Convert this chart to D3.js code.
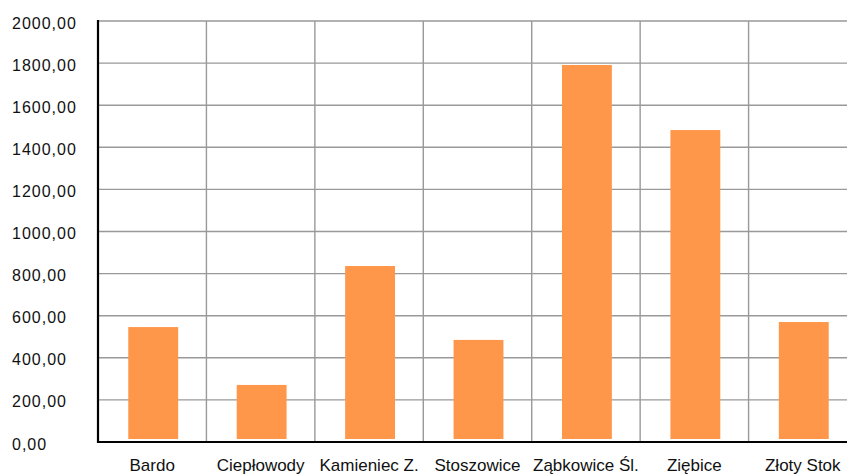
<!DOCTYPE html>
<html>
<head>
<meta charset="utf-8">
<script src="https://cdn.jsdelivr.net/npm/d3@7"></script>
<style>
  body { margin: 0; background: #fff; }
  svg { display: block; font-family: "Liberation Sans", Arial, Helvetica, sans-serif; }
</style>
</head>
<body>
<div id="chart"></div>
<script>
const categories = ["Bardo", "Ciepłowody", "Kamieniec Z.", "Stoszowice", "Ząbkowice Śl.", "Ziębice", "Złoty Stok"];
const values = [546, 271, 836, 485, 1791, 1482, 570];
const yTicks = [0, 200, 400, 600, 800, 1000, 1200, 1400, 1600, 1800, 2000];

const width = 847, height = 474;
const plotLeft = 98, plotTop = 21, plotBottom = 442, plotRight = 857;

const svg = d3.select("#chart").append("svg")
    .attr("width", width)
    .attr("height", height);

const x = d3.scaleBand()
    .domain(categories)
    .range([plotLeft, plotRight])
    .paddingInner(0)
    .paddingOuter(0);

const y = d3.scaleLinear()
    .domain([0, 2000])
    .range([plotBottom, plotTop]);

// horizontal grid
svg.append("g")
  .selectAll("line")
  .data(yTicks)
  .enter().append("line")
    .attr("x1", plotLeft)
    .attr("x2", plotRight)
    .attr("y1", d => y(d))
    .attr("y2", d => y(d))
    .attr("stroke", "#999")
    .attr("stroke-width", 1.4);

// vertical grid at category boundaries
svg.append("g")
  .selectAll("line")
  .data(categories.slice(1))
  .enter().append("line")
    .attr("x1", d => x(d))
    .attr("x2", d => x(d))
    .attr("y1", plotTop)
    .attr("y2", plotBottom)
    .attr("stroke", "#999")
    .attr("stroke-width", 1.4);

// bars
const barW = x.bandwidth() * 0.46;
svg.append("g")
  .selectAll("rect")
  .data(values)
  .enter().append("rect")
    .attr("x", (d, i) => x(categories[i]) + x.bandwidth() / 2 - barW / 2 + 1)
    .attr("y", d => y(d))
    .attr("width", barW)
    .attr("height", d => y(0) - y(d) - 3)
    .attr("fill", "#FF974B");

// axes lines
svg.append("line")
    .attr("x1", plotLeft).attr("x2", plotLeft)
    .attr("y1", plotTop - 1).attr("y2", plotBottom + 1)
    .attr("stroke", "#000").attr("stroke-width", 2.2);
svg.append("line")
    .attr("x1", plotLeft - 1).attr("x2", width)
    .attr("y1", plotBottom).attr("y2", plotBottom)
    .attr("stroke", "#000").attr("stroke-width", 2.2);

// y labels (left aligned)
svg.append("g")
  .selectAll("text")
  .data(yTicks)
  .enter().append("text")
    .attr("x", 12)
    .attr("y", d => y(d) + 7.5)
    .attr("font-size", 16)
    .attr("letter-spacing", 1)
    .attr("fill", "#111")
    .text(d => d3.format(".2f")(d).replace(".", ","));

// x labels
svg.append("g")
  .selectAll("text")
  .data(categories)
  .enter().append("text")
    .attr("x", d => x(d) + x.bandwidth() / 2)
    .attr("y", 471)
    .attr("text-anchor", "middle")
    .attr("font-size", 17)
    .attr("fill", "#111")
    .text(d => d);
</script>
</body>
</html>
